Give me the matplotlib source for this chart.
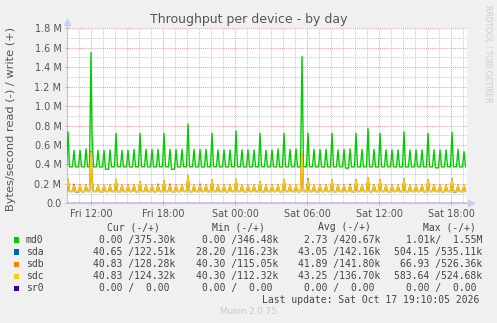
import matplotlib
matplotlib.use("Agg")
import matplotlib.pyplot as plt
from matplotlib.patches import Rectangle
from matplotlib.ticker import FixedLocator
import math

W, H = 497, 323

# ---------------- data ----------------
# time axis: hours since Fri 00:00 (5-minute samples, Munin "by day" view)
x_start = 10.0
x_end = 10.0 + 400 * 5 / 60
first_slot = 10 + 5 / 60          # first burst at Fri 10:05, then every 30 minutes
slot_step = 0.5
x_ticks = [12, 18, 24, 30, 36, 42]
x_tick_labels = ["Fri 12:00", "Fri 18:00", "Sat 00:00", "Sat 06:00", "Sat 12:00", "Sat 18:00"]
y_ticks = [0, 200e3, 400e3, 600e3, 800e3, 1000e3, 1200e3, 1400e3, 1600e3, 1800e3]
y_tick_labels = ["0.0", "0.2 M", "0.4 M", "0.6 M", "0.8 M", "1.0 M", "1.2 M", "1.4 M", "1.6 M", "1.8 M"]

# write throughput (kB/s) at each 30-minute burst and the level after it
md0_peak = [735, 545, 545, 560, 720, 545, 545, 550, 720, 545, 545, 555, 720, 555, 555, 555,
            720, 555, 555, 555, 815, 555, 555, 555, 720, 550, 550, 550, 745, 550, 550, 550,
            720, 545, 550, 560, 720, 555, 560, 1510, 720, 555, 555, 555, 720, 550, 555, 560,
            720, 555, 770, 555, 720, 550, 550, 550, 735, 550, 550, 550, 720, 550, 550, 550,
            730, 555, 530]
md0_base = [375, 375, 376, 375, 375, 374, 350, 375, 376, 375, 374, 375, 376, 375, 375, 376,
            375, 350, 375, 376, 375, 375, 374, 375, 376, 375, 375, 376, 375, 374, 375, 375,
            376, 375, 375, 374, 375, 376, 375, 375, 376, 375, 374, 375, 375, 376, 362, 375,
            375, 376, 375, 374, 375, 376, 375, 375, 374, 375, 376, 375, 375, 365, 375, 376,
            375, 375, 375]
sdc_peak = [246, 186, 185, 186, 245, 185, 184, 186, 246, 185, 184, 186, 222, 185, 185, 188,
            232, 186, 185, 185, 280, 185, 188, 186, 239, 185, 185, 186, 246, 186, 185, 185,
            222, 186, 185, 186, 245, 186, 185, 505, 240, 185, 186, 185, 240, 186, 185, 186,
            242, 185, 263, 186, 240, 185, 186, 185, 246, 185, 186, 185, 242, 186, 185, 186,
            246, 186, 185]
sdc_base = [122, 122, 121, 122, 122, 121, 122, 122, 121, 122, 122, 121, 122, 122, 121, 122,
            122, 121, 122, 122, 121, 122, 122, 121, 122, 122, 121, 122, 122, 121, 122, 122,
            121, 122, 122, 121, 122, 122, 121, 122, 122, 121, 122, 122, 121, 122, 122, 121,
            122, 122, 121, 122, 122, 121, 122, 122, 121, 122, 122, 121, 122, 122, 121, 122,
            122, 122, 122]
sda_peak = [246, 196, 185, 186, 245, 185, 184, 186, 246, 185, 184, 186, 222, 185, 185, 197,
            232, 197, 185, 185, 280, 185, 197, 186, 239, 185, 185, 186, 246, 186, 185, 185,
            222, 186, 185, 186, 245, 186, 185, 500, 252, 185, 186, 185, 240, 186, 185, 196,
            242, 185, 263, 186, 240, 185, 186, 185, 252, 185, 186, 185, 242, 186, 185, 186,
            252, 186, 185]
sda_base = [122, 118, 121, 122, 122, 121, 122, 122, 121, 122, 122, 121, 122, 122, 121, 122,
            122, 121, 122, 122, 121, 122, 122, 121, 122, 122, 121, 122, 122, 121, 122, 122,
            121, 122, 122, 121, 122, 122, 121, 122, 122, 121, 122, 122, 121, 122, 122, 121,
            122, 122, 121, 122, 122, 121, 122, 122, 121, 122, 122, 121, 122, 122, 121, 122,
            118, 122, 122]
sdb_peak = [246, 186, 185, 186, 245, 185, 184, 186, 246, 185, 184, 186, 222, 185, 185, 188,
            232, 186, 185, 185, 280, 185, 188, 186, 239, 185, 185, 186, 246, 186, 185, 185,
            222, 186, 185, 186, 245, 186, 185, 510, 240, 185, 186, 185, 240, 186, 185, 186,
            242, 185, 263, 186, 240, 185, 186, 185, 246, 185, 186, 185, 242, 186, 185, 186,
            246, 186, 185]
sdb_base = [122, 122, 121, 122, 122, 121, 122, 122, 121, 122, 122, 121, 122, 122, 121, 122,
            122, 121, 122, 122, 121, 122, 122, 126, 122, 122, 121, 122, 122, 121, 122, 122,
            121, 122, 122, 121, 122, 122, 121, 122, 122, 121, 122, 122, 121, 122, 122, 121,
            122, 122, 121, 122, 122, 121, 122, 122, 121, 122, 122, 121, 122, 122, 121, 122,
            126, 122, 122]
sr0_level = [0, 0]
# isolated burst at Fri 12:00
extra_time = [12.0]
md0_extra = [1550]
sda_extra = [535]
sdb_extra = [526]
sdc_extra = [524]

colors = {"md0": "#00CC00", "sda": "#0066B3", "sdb": "#FF8000", "sdc": "#FFCC00", "sr0": "#330099"}

HW = 450  # half-width of a burst, seconds


def build(peaks, bases, extras):
    pts = {}
    for k, (p, b) in enumerate(zip(peaks, bases)):
        t = round((first_slot + slot_step * k) * 3600)
        prev = bases[k - 1] if k > 0 else b
        pts[t - HW] = prev
        pts[t] = p
        pts[t + HW] = b
    for te, v in zip(extra_time, extras):
        k = math.floor((te - first_slot) / slot_step)
        t = round(te * 3600)
        for key in [kk for kk in pts if t - HW < kk < t]:
            del pts[key]
        pts[t - HW] = bases[k]
        pts[t] = v
    keys = sorted(pts)
    return [kk / 3600 for kk in keys], [pts[kk] * 1000 for kk in keys]


# ---------------- figure ----------------
fig = plt.figure(figsize=(W / 100, H / 100), dpi=100, facecolor="#F0F0F0")
ax = fig.add_axes([67 / W, 1 - 203.3 / H, 400 / W, 175 / H])
ax.set_facecolor("white")

for name, pk, bs, ex in [("md0", md0_peak, md0_base, md0_extra),
                         ("sda", sda_peak, sda_base, sda_extra),
                         ("sdb", sdb_peak, sdb_base, sdb_extra),
                         ("sdc", sdc_peak, sdc_base, sdc_extra)]:
    xs, ys = build(pk, bs, ex)
    ax.plot(xs, ys, color=colors[name], lw=1.0, zorder=3)
ax.plot([x_start, x_end], sr0_level, color=colors["sr0"], lw=1.0, zorder=4)

ax.set_xlim(x_start, x_end)
ax.set_ylim(0, 1.8e6)

# grid
ax.xaxis.set_major_locator(FixedLocator(x_ticks))
ax.xaxis.set_minor_locator(FixedLocator([h for h in range(11, 44)]))
ax.yaxis.set_major_locator(FixedLocator(y_ticks))
ax.yaxis.set_minor_locator(FixedLocator([v * 1e5 for v in range(1, 18, 2)]))
ax.set_xticklabels(x_tick_labels)
ax.set_yticklabels(y_tick_labels)
ax.grid(which="minor", color="#C8C8C8", lw=0.75, linestyle=(0, (1, 1)))
ax.grid(which="major", color="#EFA0A0", lw=0.75, linestyle=(0, (1, 1)))
ax.set_axisbelow(True)

ax.tick_params(which="major", length=3, width=0.6, color="#B0B0B0", direction="inout",
               labelsize=7, labelcolor="#555555", pad=2.5)
ax.tick_params(which="minor", length=0)

for s in ["top", "right"]:
    ax.spines[s].set_visible(False)
for s in ["left", "bottom"]:
    ax.spines[s].set_color("#BCC4EE")
    ax.spines[s].set_linewidth(0.8)

# axis arrows
ax.plot([0, 0], [1.0, 1.035], transform=ax.transAxes, color="#BCC4EE", lw=0.8, clip_on=False)
ax.plot([1.0, 1.01], [0, 0], transform=ax.transAxes, color="#BCC4EE", lw=0.8, clip_on=False)
ax.plot([0], [1.035], transform=ax.transAxes, marker="^", ms=4, color="#C8CEF2", clip_on=False)
ax.plot([1.01], [0], transform=ax.transAxes, marker=">", ms=4, color="#C8CEF2", clip_on=False)

# titles
fig.text(248.5 / W, 1 - 19 / H, "Throughput per device - by day", ha="center", va="center",
         fontsize=9, color="#555555")
fig.text(11.5 / W, 1 - 119 / H, "Bytes/second read (-) / write (+)", rotation=90,
         ha="center", va="center", fontsize=8.2, color="#555555")
fig.text(488 / W, 1 - 5 / H, "RRDTOOL / TOBI OETIKER", rotation=270, ha="center", va="top",
         fontsize=5.5, color="#CCCCCC")

# legend
mono = "DejaVu Sans Mono"
cw = 7 * 100 / 72 * 0.602
lc = "#444444"


def put(x, y, s):
    n = len(s) - len(s.lstrip(" "))
    fig.text((x + n * cw) / W, 1 - y / H, s.lstrip(" "), ha="left", va="center",
             fontsize=7, family=mono, color=lc)


headers = ["Cur (-/+)", "Min (-/+)", "Avg (-/+)", "Max (-/+)"]
header_x = [107.3, 212.3, 317.7, 422.7]
for hx, hs in zip(header_x, headers):
    put(hx, 227.3, hs)

names = ["md0", "sda", "sdb", "sdc", "sr0"]
cur = [" 0.00 /375.30k", "40.65 /122.51k", "40.83 /128.28k", "40.83 /124.32k", " 0.00 /  0.00"]
mins = [" 0.00 /346.48k", "28.20 /116.23k", "40.30 /115.05k", "40.30 /112.32k", " 0.00 /  0.00"]
avgs = [" 2.73 /420.67k", "43.05 /142.16k", "41.89 /141.80k", "43.25 /136.70k", " 0.00 /  0.00"]
maxs = ["  1.01k/  1.55M", "504.15 /535.11k", " 66.93 /526.36k", "583.64 /524.68k", "  0.00 /  0.00"]
row_y = [240, 252.2, 264.2, 276.2, 288.2]
col_x = [93.3, 195.7, 297.7, 394.3]
for i, nm in enumerate(names):
    y = row_y[i]
    fig.patches.append(Rectangle((14 / W, 1 - (y + 2.7) / H), 5.4 / W, 5.4 / H,
                                 transform=fig.transFigure, facecolor=colors[nm],
                                 edgecolor="none", figure=fig))
    put(26, y, nm)
    for cx, col in zip(col_x, [cur, mins, avgs, maxs]):
        put(cx, y, col[i])

put(261.7, 300.2, "Last update: Sat Oct 17 19:10:05 2026")
fig.text(248 / W, 1 - 312 / H, "Munin 2.0.75", ha="center", va="center", fontsize=6.3,
         color="#C8C8C8")

fig.savefig("out.png", dpi=100, facecolor=fig.get_facecolor())
